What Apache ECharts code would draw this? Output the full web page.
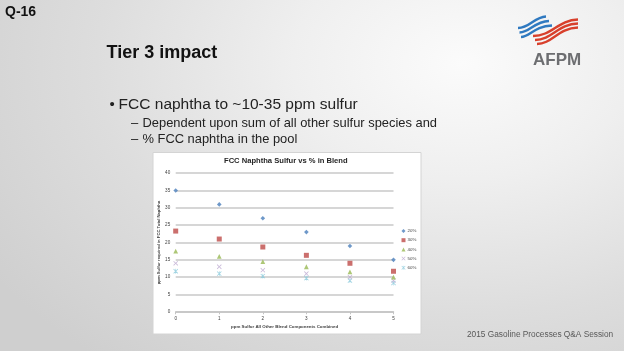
<!DOCTYPE html>
<html>
<head>
<meta charset="utf-8">
<script src="https://cdn.jsdelivr.net/npm/echarts/dist/echarts.min.js"></script>
<style>
html,body{margin:0;padding:0;width:624px;height:351px;overflow:hidden;}
body{background:radial-gradient(ellipse 90% 110% at 74% 18%, #fbfbfb 0%, #efefef 30%, #dddddd 65%, #cfcfcf 100%);}
#c{width:624px;height:351px;}
</style>
</head>
<body>
<div id="c"></div>
<script>
// ---- data ----
var xValues = [0, 1, 2, 3, 4, 5];
var seriesNames = ['20%', '30%', '40%', '50%', '60%'];
var s20 = [35, 31, 27, 23, 19, 15];
var s30 = [23.3, 21, 18.7, 16.3, 14, 11.7];
var s40 = [17.5, 16, 14.5, 13, 11.5, 10];
var s50 = [14, 13, 12, 11, 10, 9];
var s60 = [11.7, 11, 10.3, 9.7, 9, 8.3];
var yTicks = [0, 5, 10, 15, 20, 25, 30, 35, 40];
var xTicks = [0, 1, 2, 3, 4, 5];
var chartTitle = 'FCC Naphtha Sulfur vs % in Blend';
var xName = 'ppm Sulfur All Other Blend Components Combined';
var yName = 'ppm Sulfur required in FCC Total Naphtha';

// ---- build ----
var F = '"Liberation Sans", Arial, sans-serif';
function pairs(vals){ return xValues.map(function(x,i){ return [x, vals[i]]; }); }
var xPath = 'path://M0,1.2L1.2,0L5,3.8L8.8,0L10,1.2L6.2,5L10,8.8L8.8,10L5,6.2L1.2,10L0,8.8L3.8,5Z';
var starPath = 'path://M0,1.2L1.2,0L5,3.8L8.8,0L10,1.2L6.2,5L10,8.8L8.8,10L5,6.2L1.2,10L0,8.8L3.8,5ZM4.4,0L5.6,0L5.6,10L4.4,10Z';
var styles = [
  {data: s20, symbol: 'diamond', size: 4.6, color: '#4a7ebb'},
  {data: s30, symbol: 'rect', size: 5, color: '#be4b48'},
  {data: s40, symbol: 'triangle', size: 4.8, color: '#98b954'},
  {data: s50, symbol: xPath, size: 4.8, color: '#bba8d0'},
  {data: s60, symbol: starPath, size: 4.8, color: '#8ccbdc'}
];
var series = styles.map(function(s, i){
  return {
    name: seriesNames[i], type: 'scatter', data: pairs(s.data),
    symbol: s.symbol, symbolSize: s.size,
    itemStyle: {color: s.color}, z: 5 - i
  };
});

var graphics = [
  {type:'rect', shape:{x:153, y:152.5, width:268, height:181.5}, style:{fill:'#ffffff', stroke:'#d4d4d4', lineWidth:1}, z:-10, silent:true},
  {type:'text', style:{text:'Q-16', x:5, y:12.5, font:'bold 14px '+F, fill:'#111', verticalAlign:'middle'}},
  {type:'text', style:{text:'Tier 3 impact', x:106.5, y:53.5, font:'bold 18px '+F, fill:'#111', verticalAlign:'middle'}},
  {type:'text', style:{text:'\u2022', x:109.5, y:104.7, font:'15px '+F, fill:'#222', verticalAlign:'middle'}},
  {type:'text', style:{text:'FCC naphtha to ~10-35 ppm sulfur', x:118.6, y:104.7, font:'15.5px '+F, fill:'#222', verticalAlign:'middle'}},
  {type:'text', style:{text:'\u2013', x:131, y:123.3, font:'13px '+F, fill:'#222', verticalAlign:'middle'}},
  {type:'text', style:{text:'Dependent upon sum of all other sulfur species and', x:142.5, y:123.3, font:'12.9px '+F, fill:'#222', verticalAlign:'middle'}},
  {type:'text', style:{text:'\u2013', x:131, y:139.3, font:'13px '+F, fill:'#222', verticalAlign:'middle'}},
  {type:'text', style:{text:'% FCC naphtha in the pool', x:142.5, y:139.3, font:'12.9px '+F, fill:'#222', verticalAlign:'middle'}},
  {type:'text', style:{text:'AFPM', x:533, y:60.5, font:'bold 17px '+F, fill:'#6d6e71', verticalAlign:'middle'}},
  {type:'text', style:{text:'2015 Gasoline Processes Q&A Session', x:467, y:335, font:'8.3px '+F, fill:'#595959', verticalAlign:'middle'}}
];
// logo swooshes (decorative)
for (var i = 0; i < 3; i++) {
  graphics.push({type:'bezierCurve', shape:{x1:518+i*1.5, y1:28+i*4.5, cpx1:530, cpy1:28+i*4.5, cpx2:534, cpy2:17+i*4.5, x2:546+i*3, y2:16.5+i*4.5},
    style:{stroke:'#2f79c0', lineWidth:2.4, fill:null}, silent:true});
  graphics.push({type:'bezierCurve', shape:{x1:533+i*2, y1:36+i*4, cpx1:552, cpy1:36+i*4, cpx2:558, cpy2:20+i*4, x2:578, y2:19.5+i*4},
    style:{stroke:'#d8402c', lineWidth:2.4, fill:null}, silent:true});
}

var option = {
  animation: false,
  backgroundColor: 'transparent',
  title: {text: chartTitle, left: 224, top: 157, padding: 0,
    textStyle: {fontFamily: F, fontSize: 7.6, fontWeight: 'bold', color: '#262626'}},
  legend: {orient: 'vertical', left: 401.5, top: 229, padding: 0, itemWidth: 4, itemHeight: 4, itemGap: 5.2,
    data: seriesNames, textStyle: {fontFamily: F, fontSize: 4.4, color: '#404040', padding: [0,0,0,-3]}},
  grid: {left: 175.7, right: 230.5, top: 173.2, bottom: 39.2, containLabel: false},
  xAxis: {type: 'value', min: xTicks[0], max: xTicks[xTicks.length-1], interval: 1,
    name: xName, nameLocation: 'middle', nameGap: 12.5,
    nameTextStyle: {fontFamily: F, fontSize: 4.4, fontWeight: 'bold', color: '#404040'},
    axisLine: {show: true, lineStyle: {color: '#c4c4c4', width: 1.5}},
    axisTick: {show: true, length: 2.5, lineStyle: {color: '#c4c4c4'}},
    axisLabel: {fontFamily: F, fontSize: 4.6, color: '#404040', margin: 4},
    splitLine: {show: false}},
  yAxis: {type: 'value', min: yTicks[0], max: yTicks[yTicks.length-1], interval: 5,
    name: yName, nameLocation: 'middle', nameGap: 13.4, nameRotate: 90,
    nameTextStyle: {fontFamily: F, fontSize: 4.2, fontWeight: 'bold', color: '#404040'},
    axisLine: {show: false}, axisTick: {show: false},
    axisLabel: {fontFamily: F, fontSize: 4.6, color: '#404040', margin: 5.5},
    splitLine: {show: true, lineStyle: {color: '#c8c8c8', width: 1.5}}},
  graphic: graphics,
  series: series
};
var chart = echarts.init(document.getElementById('c'), null, {renderer: 'canvas'});
chart.setOption(option);
</script>
</body>
</html>
